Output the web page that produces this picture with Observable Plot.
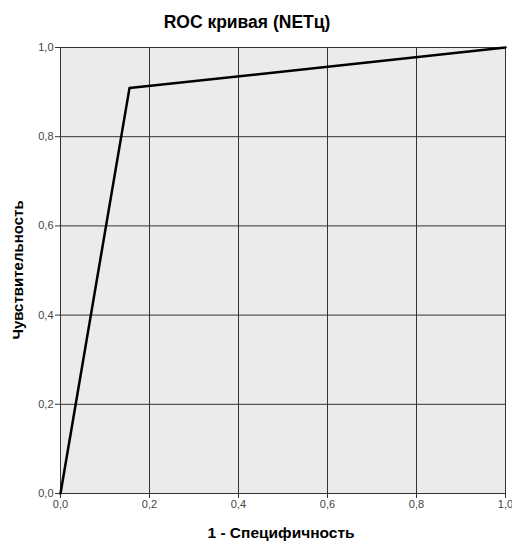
<!DOCTYPE html>
<html><head><meta charset="utf-8">
<script src="https://cdn.jsdelivr.net/npm/d3@7"></script>
<script src="https://cdn.jsdelivr.net/npm/@observablehq/plot@0.6"></script>
<style>body{margin:0;background:#fff;font-family:Arial,"Liberation Sans",sans-serif}</style>
</head><body>
<div id="chart"></div>
<script>
const fpr = [0, 0.155, 1];
const tpr = [0, 0.909, 1];
const ticks = [0, 0.2, 0.4, 0.6, 0.8, 1.0];
const title = "ROC кривая (NETц)";
const xLabel = "1 - Специфичность";
const yLabel = "Чувствительность";

const data = fpr.map((x, i) => ({x, y: tpr[i]}));
const fmt = d => d.toFixed(1).replace(".", ",");

const plot = Plot.plot({
  width: 512, height: 543,
  marginLeft: 60, marginRight: 7, marginTop: 47, marginBottom: 50,
  style: {fontFamily: "Arial, 'Liberation Sans', sans-serif", fontSize: "11px", background: "#fff"},
  x: {domain: [0, 1], ticks, tickFormat: fmt, label: null, tickSize: 5},
  y: {domain: [0, 1], ticks, tickFormat: fmt, label: null, tickSize: 5},
  marks: [
    Plot.frame({fill: "#ebebeb"}),
    Plot.gridX(ticks, {stroke: "#333", strokeOpacity: 1, strokeWidth: 1}),
    Plot.gridY(ticks, {stroke: "#333", strokeOpacity: 1, strokeWidth: 1}),
    Plot.frame({stroke: "#333", strokeWidth: 1}),
    Plot.axisX({ticks, tickFormat: fmt, tickSize: 5, stroke: "#333", color: "#444", label: null, tickPadding: 2}),
    Plot.axisY({ticks, tickFormat: fmt, tickSize: 5, stroke: "#333", color: "#444", label: null, tickPadding: 2}),
    Plot.line(data, {x: "x", y: "y", stroke: "#000", strokeWidth: 2.5})
  ]
});

const svg = d3.select(plot);
svg.append("text").attr("x", 247).attr("y", 28).attr("text-anchor", "middle")
  .attr("font-size", 17.5).attr("font-weight", "bold").attr("fill", "#000").text(title);
svg.append("text").attr("x", 281).attr("y", 538).attr("text-anchor", "middle")
  .attr("font-size", 15.5).attr("font-weight", "bold").attr("fill", "#000").text(xLabel);
svg.append("text").attr("transform", "translate(23,270) rotate(-90)").attr("text-anchor", "middle")
  .attr("font-size", 15).attr("font-weight", "bold").attr("fill", "#000").text(yLabel);

document.getElementById("chart").appendChild(plot);
</script>
</body></html>
